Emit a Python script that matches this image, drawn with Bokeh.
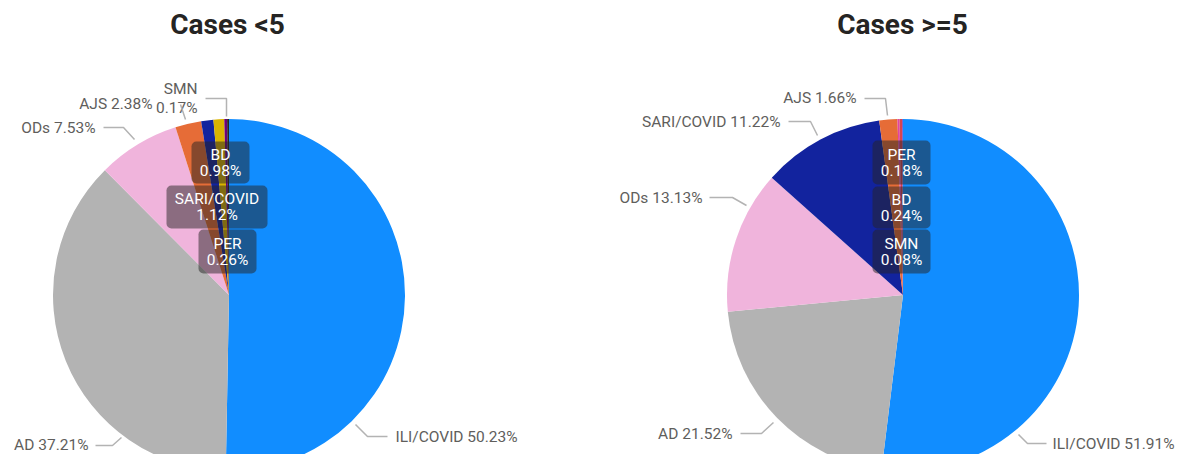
import math
from bokeh.plotting import figure
from bokeh.models import Range1d, ColumnDataSource
from bokeh.embed import file_html
from bokeh.resources import INLINE
from bokeh.core.properties import value

# ---------------- data ----------------
titles = ["Cases <5", "Cases >=5"]

cats_lt5 = ["ILI/COVID", "AD", "ODs", "AJS", "SARI/COVID", "BD", "PER", "SMN"]
vals_lt5 = [50.23, 37.21, 7.53, 2.38, 1.12, 0.98, 0.26, 0.17]
cols_lt5 = ["#118DFF", "#B3B3B3", "#F0B4DC", "#E66C37", "#12239E", "#D9B300", "#6B007B", "#252423"]

cats_ge5 = ["ILI/COVID", "AD", "ODs", "SARI/COVID", "AJS", "PER", "BD", "SMN"]
vals_ge5 = [51.91, 21.52, 13.13, 11.22, 1.66, 0.18, 0.24, 0.08]
cols_ge5 = ["#118DFF", "#B3B3B3", "#F0B4DC", "#12239E", "#E66C37", "#E044A7", "#D64550", "#744EC2"]

FONT = value("Roboto")
LABEL_COLOR = "#605E5C"
LEADER_COLOR = "#B3B3B3"
LABEL_SIZE = "15.5px"

W, H = 1181, 454
p = figure(width=W, height=H, x_range=Range1d(0, W), y_range=Range1d(470 - H, 470),
           output_backend="svg", toolbar_location=None, min_border=0,
           x_axis_type=None, y_axis_type=None)
p.grid.visible = False
p.outline_line_color = None
p.background_fill_color = "white"
p.border_fill_color = "white"


def Y(sy):
    return 470 - sy


def pct(v):
    return f"{v:.2f}%"


def draw_pie(cx, cy, r, cats, vals, cols):
    tot = sum(vals)
    starts, ends = [], []
    c = 0.0
    for v in vals:
        starts.append(math.pi / 2 - 2 * math.pi * c / tot)
        c += v
        ends.append(math.pi / 2 - 2 * math.pi * c / tot)
    src = ColumnDataSource(dict(start=starts, end=ends, color=cols, cat=cats, val=vals))
    p.wedge(x=cx, y=Y(cy), radius=r, start_angle="start", end_angle="end",
            direction="clock", fill_color="color", line_color=None, source=src)


R = 176
draw_pie(228.5, 294.5, R, cats_lt5, vals_lt5, cols_lt5)
draw_pie(902.5, 294.5, R, cats_ge5, vals_ge5, cols_ge5)

# titles
p.text(x=[227, 902], y=[Y(24), Y(24)], text=titles, text_font=FONT,
       text_font_size="28px", text_font_style="bold", text_color="#252423",
       text_align="center", text_baseline="middle")


def v(cats, vals, name):
    return vals[cats.index(name)]


# ---------- outer labels ----------
lt = cats_lt5, vals_lt5
ge = cats_ge5, vals_ge5
outer = [
    # (text, x, sy, align)
    ("SMN", 197, 88, "right"),
    (pct(v(*lt, "SMN")), 197, 107, "right"),
    ("AJS " + pct(v(*lt, "AJS")), 152, 103, "right"),
    ("ODs " + pct(v(*lt, "ODs")), 95, 127, "right"),
    ("AD " + pct(v(*lt, "AD")), 88, 444, "right"),
    ("ILI/COVID " + pct(v(*lt, "ILI/COVID")), 395, 436, "left"),
    ("AJS " + pct(v(*ge, "AJS")), 856, 97, "right"),
    ("SARI/COVID " + pct(v(*ge, "SARI/COVID")), 780, 121, "right"),
    ("ODs " + pct(v(*ge, "ODs")), 702, 197, "right"),
    ("AD " + pct(v(*ge, "AD")), 732, 433, "right"),
    ("ILI/COVID " + pct(v(*ge, "ILI/COVID")), 1052, 443, "left"),
]
for t, x, sy, al in outer:
    p.text(x=[x], y=[Y(sy)], text=[t], text_font=FONT, text_font_size=LABEL_SIZE,
           text_color=LABEL_COLOR, text_align=al, text_baseline="middle")

leaders = [
    [(205, 98), (226, 98), (226, 116)],
    [(180, 104), (185, 119)],
    [(103, 127), (123, 127), (134, 139)],
    [(95, 445), (112, 445), (121, 437)],
    [(355, 424), (367, 436), (387, 436)],
    [(864, 98), (885, 98), (887, 115)],
    [(788, 121), (810, 121), (817, 135)],
    [(709, 197), (732, 197), (746, 205)],
    [(740, 433), (761, 433), (773, 422)],
    [(1018, 434), (1027, 443), (1046, 443)],
]
p.multi_line(xs=[[pt[0] for pt in L] for L in leaders],
             ys=[[Y(pt[1]) for pt in L] for L in leaders],
             line_color=LEADER_COLOR, line_width=1.5)

# ---------- inner boxed labels ----------
boxes = [
    # (name, values, left, right, top, bottom)
    ("BD", lt, 191, 249, 141, 183),
    ("SARI/COVID", lt, 166, 267, 185, 228),
    ("PER", lt, 198, 256, 229, 273),
    ("PER", ge, 872, 930, 140, 184),
    ("BD", ge, 872, 930, 186, 228),
    ("SMN", ge, 872, 930, 229, 273),
]
p.quad(left=[b[2] for b in boxes], right=[b[3] for b in boxes],
       top=[Y(b[4]) for b in boxes], bottom=[Y(b[5]) for b in boxes],
       fill_color="#252423", fill_alpha=0.5, line_color=None, border_radius=5)
for name, d, l, rr, t, b in boxes:
    cxb = (l + rr) / 2
    cyb = (t + b) / 2
    p.text(x=[cxb, cxb], y=[Y(cyb - 8), Y(cyb + 8)],
           text=[name, pct(v(*d, name))], text_font=FONT, text_font_size=LABEL_SIZE,
           text_color="white", text_align="center", text_baseline="middle")

open("out.html", "w").write(file_html(p, INLINE))
